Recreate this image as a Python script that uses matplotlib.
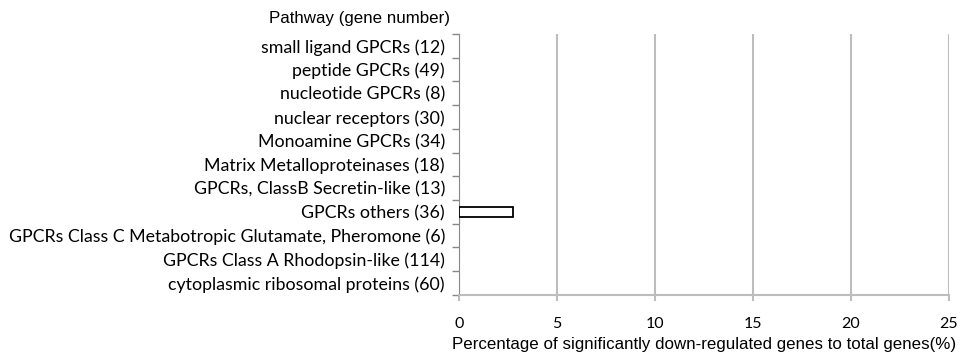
import matplotlib
matplotlib.use("Agg")
import matplotlib.pyplot as plt
import numpy as np

# Pathways listed bottom to top
pathways = [
    "cytoplasmic ribosomal proteins (60)",
    "GPCRs Class A Rhodopsin-like (114)",
    "GPCRs Class C Metabotropic Glutamate, Pheromone (6)",
    "GPCRs others (36)",
    "GPCRs, ClassB Secretin-like (13)",
    "Matrix Metalloproteinases (18)",
    "Monoamine GPCRs (34)",
    "nuclear receptors (30)",
    "nucleotide GPCRs (8)",
    "peptide GPCRs (49)",
    "small ligand GPCRs (12)",
]
percent_down = [0, 0, 0, 2.78, 0, 0, 0, 0, 0, 0, 0]
x_ticks = [0, 5, 10, 15, 20, 25]

label_font = "Lato"
grid_color = "#bdbdbd"

fig = plt.figure(figsize=(9.70, 3.57), dpi=100)
ax = fig.add_axes([0.473, 0.174, 0.505, 0.731])

y = np.arange(len(pathways))
edge_widths = [1.3 if v > 0 else 0 for v in percent_down]
ax.barh(y, percent_down, height=0.4, color="white", edgecolor="black",
        linewidth=edge_widths, zorder=3)

ax.set_xlim(0, 25)
ax.set_ylim(-0.5, len(pathways) - 0.5)
ax.set_xticks(x_ticks)
ax.set_xticklabels([str(t) for t in x_ticks], fontfamily=label_font, fontsize=11.5)
ax.set_yticks(y)
ax.set_yticklabels(pathways, fontfamily=label_font, fontsize=12.8)

# Category boundaries carry the tick marks on the y axis
ax.set_yticks(np.arange(len(pathways) + 1) - 0.5, minor=True)
ax.tick_params(axis="y", which="major", length=0, pad=10)
ax.tick_params(axis="y", which="minor", length=5, color="#888888", width=1)
ax.tick_params(axis="x", which="major", length=4, color=grid_color, width=1.5, pad=12)

ax.xaxis.grid(True, color=grid_color, linewidth=1.5, zorder=0)
ax.set_axisbelow(True)
for side in ("top", "right"):
    ax.spines[side].set_visible(False)
ax.spines["left"].set_color("#888888")
ax.spines["bottom"].set_color(grid_color)
ax.spines["bottom"].set_linewidth(1.5)

ax.set_xlabel("Percentage of significantly down-regulated genes to total genes(%)",
              fontfamily="Liberation Sans", fontsize=12.2, labelpad=4)
fig.text(450 / 970, 1 - 18 / 357, "Pathway (gene number)", ha="right", va="center",
         fontfamily="Liberation Sans", fontsize=12.2)

fig.savefig("out.png", dpi=100, facecolor="white")
